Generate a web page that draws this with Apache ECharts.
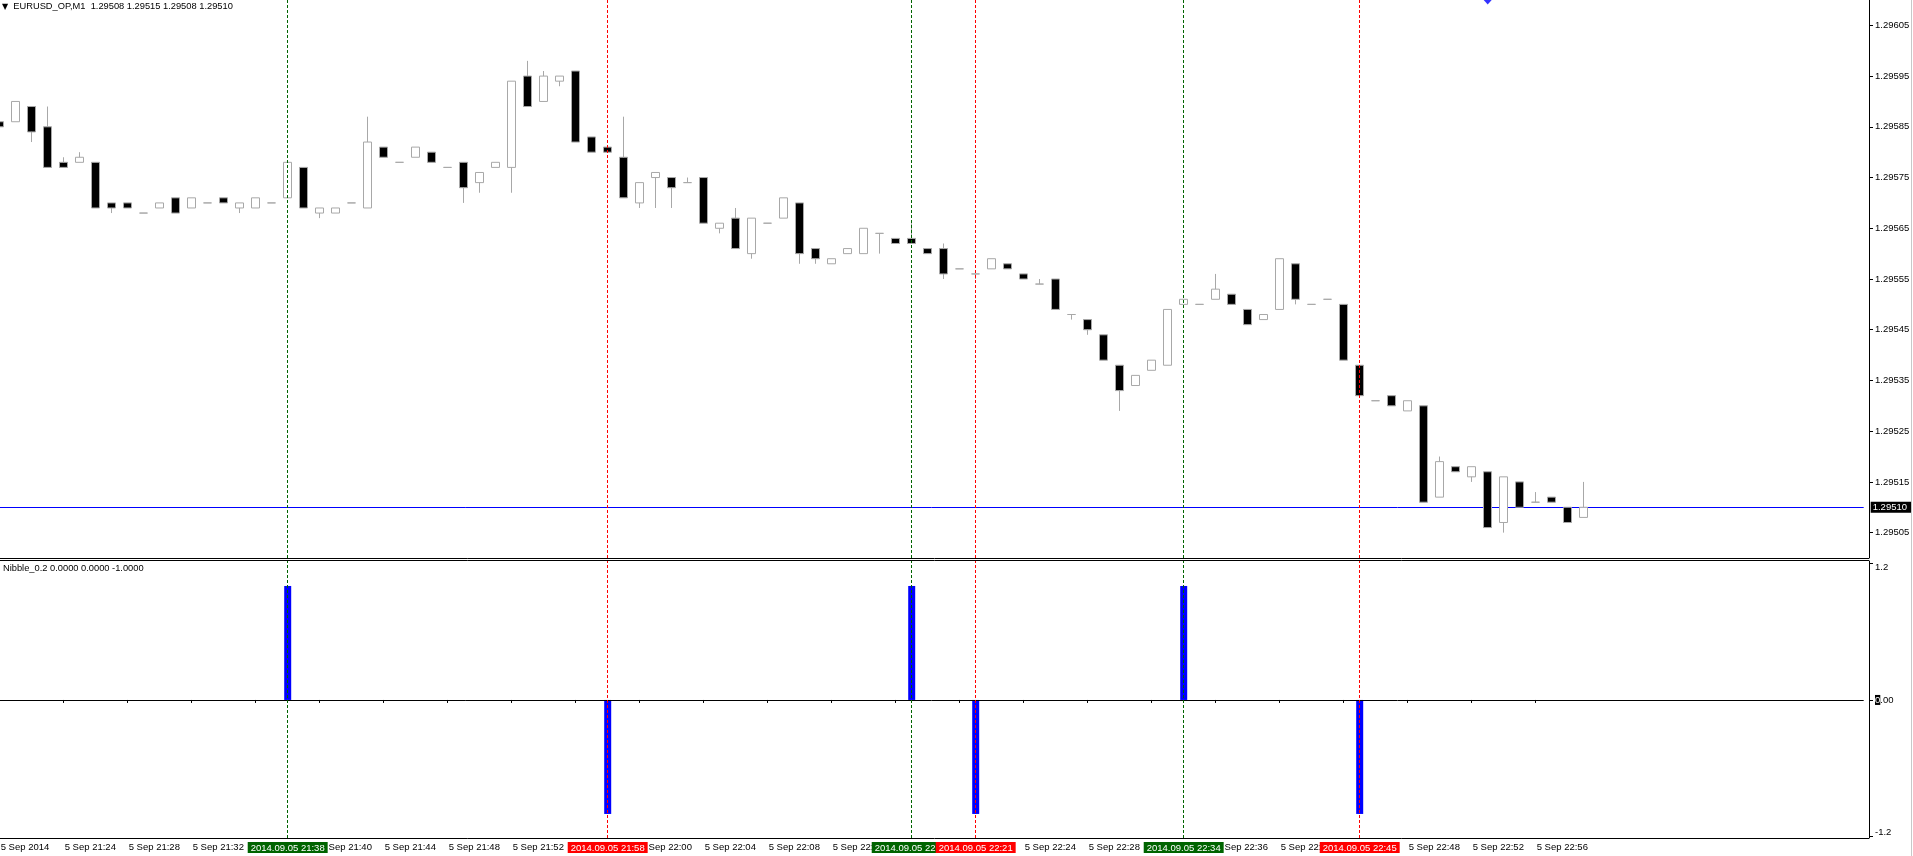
<!DOCTYPE html>
<html><head><meta charset="utf-8">
<script src="https://cdn.jsdelivr.net/npm/echarts@6/dist/echarts.min.js"></script>
<style>html,body{margin:0;padding:0;background:#fff;overflow:hidden}#c{width:1913px;height:856px;}</style>
</head><body><div id="c"></div>
<script>
const symbolName = 'EURUSD_OP,M1';
const tradeDate = '2014.09.05';
const dayLabel = '5 Sep';
const firstLabel = '5 Sep 2014';

const times = ['21:20','21:21','21:22','21:23','21:24','21:25','21:26','21:27','21:28','21:29',
'21:30','21:31','21:32','21:33','21:34','21:35','21:36','21:37','21:38','21:39',
'21:40','21:41','21:42','21:43','21:44','21:45','21:46','21:47','21:48','21:49',
'21:50','21:51','21:52','21:53','21:54','21:55','21:56','21:57','21:58','21:59',
'22:00','22:01','22:02','22:03','22:04','22:05','22:06','22:07','22:08','22:09',
'22:10','22:11','22:12','22:13','22:14','22:15','22:16','22:17','22:18','22:19',
'22:20','22:21','22:22','22:23','22:24','22:25','22:26','22:27','22:28','22:29',
'22:30','22:31','22:32','22:33','22:34','22:35','22:36','22:37','22:38','22:39',
'22:40','22:41','22:42','22:43','22:44','22:45','22:46','22:47','22:48','22:49',
'22:50','22:51','22:52','22:53','22:54','22:55','22:56','22:57','22:58','22:59'];

const open = [1.29586,1.29586,1.29589,1.29585,1.29578,1.29578,1.29578,1.29570,1.29570,1.29568,
1.29569,1.29571,1.29569,1.29570,1.29571,1.29569,1.29569,1.29570,1.29571,1.29577,
1.29568,1.29568,1.29570,1.29569,1.29581,1.29578,1.29579,1.29580,1.29577,1.29578,
1.29574,1.29577,1.29577,1.29595,1.29590,1.29594,1.29596,1.29583,1.29581,1.29579,
1.29570,1.29575,1.29575,1.29574,1.29575,1.29565,1.29567,1.29560,1.29566,1.29567,
1.29570,1.29561,1.29558,1.29560,1.29560,1.29564,1.29563,1.29563,1.29561,1.29561,
1.29557,1.29556,1.29557,1.29558,1.29556,1.29554,1.29555,1.29548,1.29547,1.29544,
1.29538,1.29534,1.29537,1.29538,1.29550,1.29550,1.29551,1.29552,1.29549,1.29547,
1.29549,1.29558,1.29550,1.29551,1.29550,1.29538,1.29531,1.29532,1.29529,1.29530,
1.29512,1.29518,1.29516,1.29517,1.29507,1.29515,1.29511,1.29512,1.29510,1.29508];

const close = [1.29585,1.29590,1.29584,1.29577,1.29577,1.29579,1.29569,1.29569,1.29569,1.29568,
1.29570,1.29568,1.29571,1.29570,1.29570,1.29570,1.29571,1.29570,1.29578,1.29569,
1.29569,1.29569,1.29570,1.29582,1.29579,1.29578,1.29581,1.29578,1.29577,1.29573,
1.29576,1.29578,1.29594,1.29589,1.29595,1.29595,1.29582,1.29580,1.29580,1.29571,
1.29574,1.29576,1.29573,1.29574,1.29566,1.29566,1.29561,1.29567,1.29566,1.29571,
1.29560,1.29559,1.29559,1.29561,1.29565,1.29564,1.29562,1.29562,1.29560,1.29556,
1.29557,1.29556,1.29559,1.29557,1.29555,1.29554,1.29549,1.29548,1.29545,1.29539,
1.29533,1.29536,1.29539,1.29549,1.29551,1.29550,1.29553,1.29550,1.29546,1.29548,
1.29559,1.29551,1.29550,1.29551,1.29539,1.29532,1.29531,1.29530,1.29531,1.29511,
1.29519,1.29517,1.29518,1.29506,1.29516,1.29510,1.29511,1.29511,1.29507,1.29510];

const low = [1.29585,1.29586,1.29582,1.29577,1.29577,1.29578,1.29569,1.29568,1.29569,1.29568,
1.29569,1.29568,1.29569,1.29570,1.29570,1.29568,1.29569,1.29570,1.29571,1.29569,
1.29567,1.29568,1.29570,1.29569,1.29579,1.29578,1.29579,1.29578,1.29577,1.29570,
1.29572,1.29577,1.29572,1.29589,1.29590,1.29593,1.29582,1.29580,1.29580,1.29571,
1.29569,1.29569,1.29569,1.29574,1.29566,1.29564,1.29561,1.29559,1.29566,1.29567,
1.29558,1.29558,1.29558,1.29560,1.29560,1.29560,1.29562,1.29562,1.29560,1.29555,
1.29557,1.29555,1.29557,1.29557,1.29555,1.29554,1.29549,1.29547,1.29544,1.29539,
1.29529,1.29534,1.29537,1.29538,1.29550,1.29550,1.29551,1.29550,1.29546,1.29547,
1.29549,1.29550,1.29550,1.29551,1.29539,1.29532,1.29531,1.29530,1.29529,1.29511,
1.29512,1.29517,1.29515,1.29506,1.29505,1.29510,1.29511,1.29511,1.29507,1.29508];

const high = [1.29586,1.29590,1.29589,1.29589,1.29579,1.29580,1.29578,1.29570,1.29570,1.29568,
1.29570,1.29571,1.29571,1.29570,1.29571,1.29570,1.29571,1.29570,1.29578,1.29577,
1.29569,1.29569,1.29570,1.29587,1.29581,1.29578,1.29581,1.29580,1.29577,1.29578,
1.29576,1.29578,1.29594,1.29598,1.29596,1.29595,1.29596,1.29583,1.29581,1.29587,
1.29574,1.29576,1.29575,1.29575,1.29575,1.29566,1.29569,1.29567,1.29566,1.29571,
1.29570,1.29561,1.29559,1.29561,1.29565,1.29564,1.29563,1.29566,1.29561,1.29562,
1.29557,1.29556,1.29559,1.29558,1.29556,1.29555,1.29555,1.29548,1.29547,1.29544,
1.29538,1.29536,1.29539,1.29549,1.29551,1.29550,1.29556,1.29552,1.29549,1.29548,
1.29559,1.29558,1.29550,1.29551,1.29550,1.29538,1.29531,1.29532,1.29531,1.29530,
1.29520,1.29518,1.29518,1.29517,1.29516,1.29515,1.29513,1.29512,1.29510,1.29515];

const priceTicks = [1.29505,1.29515,1.29525,1.29535,1.29545,1.29555,1.29565,1.29575,1.29585,1.29595,1.29605];
const priceMin = 1.29500, priceMax = 1.29610;
const bidPrice = 1.29510;

const signalTimes = ['21:38','21:58','22:17','22:21','22:34','22:45'];
const signalValues = [1,-1,1,-1,1,-1];
const indicatorName = 'Nibble_0.2';
const indicatorBuffers = [0, 0, -1];
const indicatorTicks = [-1.2, 0, 1.2];
const indicatorMin = -1.211, indicatorMax = 1.219;

const arrowTime = '22:53';
const arrowPrice = 1.29610;

const SHIFT_BARS = 17;
const F = "'Liberation Sans',Arial,sans-serif";
const FS = 9.5;
const GREEN = '#006400', RED = '#ff0000', GREY = '#a8a8a8', BLUE = '#0000ff';

const cats = times.concat(Array.from({length: SHIFT_BARS}, (_, i) => '+' + i));
const candles = times.map((t, i) => [open[i], close[i], low[i], high[i]]);
const barData = cats.map(t => { const k = signalTimes.indexOf(t); return k >= 0 ? signalValues[k] : '-'; });
const lineColor = v => v > 0 ? GREEN : RED;
const vLinesPrice = signalTimes.map((t, k) => ({ xAxis: t, lineStyle: { color: lineColor(signalValues[k]), type: [3, 2], width: 1 } }));
const vLinesInd = signalTimes.map((t, k) => ({
  xAxis: t, name: tradeDate + ' ' + t,
  lineStyle: { color: lineColor(signalValues[k]), type: [3, 2], width: 1 },
  label: { show: true, position: 'start', distance: 4, formatter: '{b}', color: '#fff',
    backgroundColor: lineColor(signalValues[k]), padding: [1, 3, 0, 3], fontSize: FS, lineHeight: 10, fontFamily: F }
}));
const labelEvery = (idx) => idx < times.length && parseInt(times[idx].slice(3), 10) % 4 === 0;
const L = times.length - 1;

const chart = echarts.init(document.getElementById('c'), null, { renderer: 'canvas' });
chart.setOption({
  animation: false,
  backgroundColor: '#fff',
  textStyle: { fontFamily: F },
  title: [
    { text: '{t|▼}  ' + symbolName + '  ' + [open[L], high[L], low[L], close[L]].map(v => v.toFixed(5)).join(' '),
      left: 2, top: 2, padding: 0,
      textStyle: { fontSize: 9.3, fontWeight: 'normal', color: '#000', fontFamily: F,
        rich: { t: { fontSize: 8, color: '#000', fontFamily: 'DejaVu Sans' } } } },
    { text: indicatorName + ' ' + indicatorBuffers.map(v => v.toFixed(4)).join(' '),
      left: 3, top: 564, padding: 0,
      textStyle: { fontSize: 9.3, fontWeight: 'normal', color: '#000', fontFamily: F } }
  ],
  grid: [
    { left: -8.3, top: 0, width: 1872, height: 558, containLabel: false, outerBoundsMode: 'none' },
    { left: -8.3, top: 561, width: 1872, height: 277, containLabel: false, outerBoundsMode: 'none' }
  ],
  xAxis: [
    { type: 'category', gridIndex: 0, data: cats, boundaryGap: true,
      axisLine: { show: false }, axisTick: { show: false }, axisLabel: { show: false }, splitLine: { show: false } },
    { type: 'category', gridIndex: 1, data: cats, boundaryGap: true,
      axisLine: { show: false },
      axisTick: { show: true, alignWithLabel: true, interval: labelEvery, length: 3, lineStyle: { color: '#000' } },
      axisLabel: { interval: labelEvery, align: 'left', margin: 4, fontSize: FS, lineHeight: 11, color: '#000', fontFamily: F,
        hideOverlap: false, padding: [0, 0, 0, 1],
        formatter: (v, idx) => idx === 0 ? firstLabel : dayLabel + ' ' + v },
      splitLine: { show: false } }
  ],
  yAxis: [
    { type: 'value', gridIndex: 0, position: 'right', offset: 5.3, min: priceMin, max: priceMax,
      axisLine: { show: true, lineStyle: { color: '#000' } },
      axisTick: { show: true, customValues: priceTicks, length: 4, lineStyle: { color: '#000' } },
      axisLabel: { customValues: priceTicks, formatter: v => v.toFixed(5), margin: 6, fontSize: FS, color: '#000', fontFamily: F },
      splitLine: { show: false } },
    { type: 'value', gridIndex: 1, position: 'right', offset: 5.3, min: indicatorMin, max: indicatorMax,
      axisLine: { show: true, lineStyle: { color: '#000' } },
      axisTick: { show: true, customValues: indicatorTicks, length: 4, lineStyle: { color: '#000' } },
      axisLabel: { customValues: indicatorTicks, margin: 6, fontSize: FS, color: '#000', fontFamily: F,
        formatter: v => v === 0 ? '{h|0}{n|.00}' : (v > 0 ? '{d|' + v.toFixed(1) + '}' : '{u|' + v.toFixed(1) + '}'),
        rich: {
          h: { backgroundColor: '#000', color: '#fff', fontSize: FS, fontFamily: F },
          n: { color: '#000', fontSize: FS, fontFamily: F },
          d: { padding: [8, 0, 0, 0], color: '#000', fontSize: FS, fontFamily: F },
          u: { padding: [0, 0, 8, 0], color: '#000', fontSize: FS, fontFamily: F }
        } },
      splitLine: { show: false } }
  ],
  series: [
    { type: 'scatter', name: 'bid', xAxisIndex: 0, yAxisIndex: 0, z: 1, data: [[arrowTime, arrowPrice]], symbol: 'diamond',
      symbolSize: [8, 9], itemStyle: { color: BLUE }, clip: false, silent: true,
      markLine: { silent: true, z: 1, symbol: ['none', 'none'], animation: false, precision: 6,
        data: [{ yAxis: bidPrice, lineStyle: { color: BLUE, type: 'solid', width: 1 },
          label: { show: true, position: 'end', distance: 7, formatter: bidPrice.toFixed(5), color: '#fff',
            backgroundColor: '#000', padding: [1, 4, 0, 2], fontSize: FS, lineHeight: 10, fontFamily: F } }] } },
    { type: 'candlestick', name: symbolName, xAxisIndex: 0, yAxisIndex: 0, z: 3, data: candles, barWidth: 9,
      itemStyle: { color: '#ffffff', color0: '#000000', borderColor: GREY, borderColor0: GREY, borderColorDoji: GREY, borderWidth: 1 },
      markLine: { silent: true, z: 5, symbol: ['none', 'none'], animation: false, label: { show: false }, data: vLinesPrice } },
    { type: 'bar', name: indicatorName, xAxisIndex: 1, yAxisIndex: 1, data: barData, barWidth: 7,
      itemStyle: { color: BLUE },
      markLine: { silent: true, symbol: ['none', 'none'], animation: false, label: { show: false },
        data: [{ yAxis: 0, lineStyle: { color: '#000', type: 'solid', width: 1 }, label: { show: false } }].concat(vLinesInd) } }
  ],
  graphic: [
    { type: 'line', silent: true, shape: { x1: 0, y1: 558.5, x2: 1869, y2: 558.5 }, style: { stroke: '#000', lineWidth: 1 } },
    { type: 'line', silent: true, shape: { x1: 0, y1: 560.5, x2: 1869, y2: 560.5 }, style: { stroke: '#000', lineWidth: 1 } },
    { type: 'line', silent: true, shape: { x1: 0, y1: 838.5, x2: 1869, y2: 838.5 }, style: { stroke: '#000', lineWidth: 1 } },
    { type: 'line', silent: true, shape: { x1: 1911.5, y1: 0, x2: 1911.5, y2: 856 }, style: { stroke: '#c8c8c8', lineWidth: 1 } }
  ]
});
</script>
</body></html>
